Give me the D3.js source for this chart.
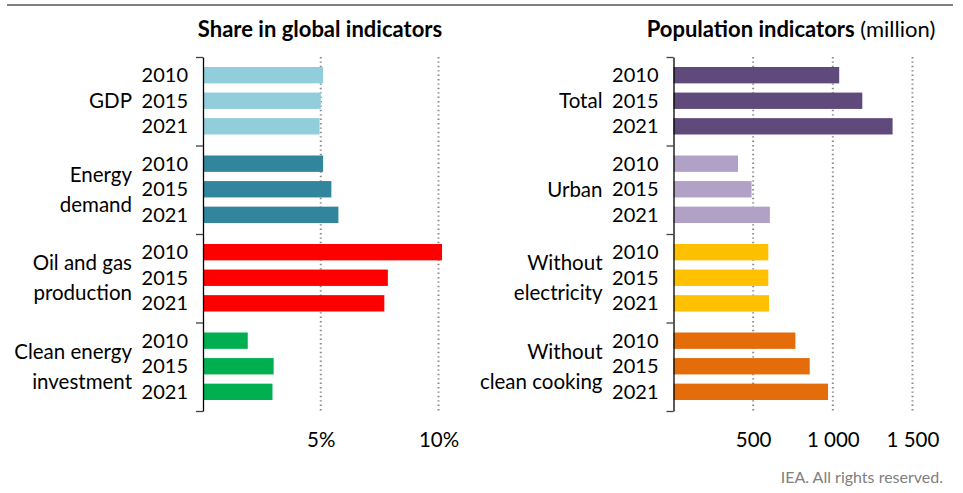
<!DOCTYPE html>
<html>
<head>
<meta charset="utf-8">
<script src="https://cdn.jsdelivr.net/npm/d3@7"></script>
<style>
  body { margin: 0; background: #fff; }
  text { font-family: Lato, "Open Sans", sans-serif; fill: #000; }
</style>
</head>
<body>
<script>
// data
var years = ["2010", "2015", "2021"];

var shareGroups = [["GDP"], ["Energy", "demand"], ["Oil and gas", "production"], ["Clean energy", "investment"]];
var shareValues = [[5.1, 5.0, 4.95], [5.1, 5.45, 5.75], [10.15, 7.85, 7.7], [1.9, 3.0, 2.95]];
var shareColors = ["#92CDDC", "#31859C", "#FF0000", "#00B050"];
var shareTicks = [5, 10];

var popGroups = [["Total"], ["Urban"], ["Without", "electricity"], ["Without", "clean cooking"]];
var popValues = [[1040, 1185, 1375], [405, 490, 605], [595, 595, 600], [765, 855, 970]];
var popColors = ["#604A7B", "#B2A1C7", "#FFC000", "#E46C0A"];
var popTicks = [500, 1000, 1500];

var width = 963, height = 493;
var yTop = 57, yBottom = 411;

var svg = d3.select("body").append("svg")
    .attr("width", width)
    .attr("height", height)

// top rule
svg.append("line")
    .attr("x1", 7).attr("x2", 953)
    .attr("y1", 5).attr("y2", 5)
    .style("stroke", "#808080")
    .style("stroke-width", 2)

function panel(opts) {
    var g = svg.append("g")

    var x = d3.scaleLinear().domain(opts.domain).range([opts.x0, opts.x1])
    var yGroup = d3.scaleBand().domain(d3.range(opts.groups.length)).range([yTop, yBottom])
    var yYear = d3.scaleBand().domain(years)
        .range([10, yGroup.bandwidth() - 11])
        .paddingInner(0.36)
    var yEdge = d3.scaleLinear().domain([0, opts.groups.length]).range([yTop, yBottom])

    // dotted gridlines
    g.append("g").selectAll("line")
        .data(opts.ticks)
        .enter()
        .append("line")
        .attr("x1", d => x(d)).attr("x2", d => x(d))
        .attr("y1", yTop).attr("y2", yBottom)
        .style("stroke", "#8a8a8a")
        .style("stroke-width", 2)
        .style("stroke-dasharray", "1.4,3")

    // bars
    opts.groups.forEach((grp, i) => {
        g.append("g").selectAll("rect")
            .data(opts.values[i])
            .enter()
            .append("rect")
            .attr("x", x(0))
            .attr("y", (d, j) => yGroup(i) + yYear(years[j]))
            .attr("width", d => x(d) - x(0))
            .attr("height", yYear.bandwidth())
            .attr("fill", opts.colors[i])

        // year labels
        g.append("g").selectAll("text")
            .data(years)
            .enter()
            .append("text")
            .attr("x", opts.x0 - 15)
            .attr("y", d => yGroup(i) + yYear(d) + yYear.bandwidth() / 2)
            .attr("dy", "0.35em")
            .attr("text-anchor", "end")
            .style("font-size", "20px")
            .text(d => d)

        // group labels
        var cy = yGroup(i) + yGroup.bandwidth() / 2
        var lab = g.append("text")
            .attr("text-anchor", "end")
            .style("font-size", "20.5px")
        grp.forEach((line, k) => {
            var off = grp.length === 1 ? 0 : (k === 0 ? -15 : 15)
            lab.append("tspan")
                .attr("x", opts.x0 - 71)
                .attr("y", cy + off)
                .attr("dy", "0.35em")
                .text(line)
        })
    })

    // category axis with group ticks
    var yAxis = g.append("g")
        .attr("transform", "translate(" + opts.x0 + ",0)")
        .call(d3.axisLeft(yEdge)
            .tickValues(d3.range(opts.groups.length + 1))
            .tickSize(7)
            .tickSizeOuter(0)
            .tickFormat(""))
    yAxis.select(".domain").style("stroke", "#000").style("stroke-width", 1.3)
    yAxis.selectAll(".tick line").style("stroke", "#404040").style("stroke-width", 1.3)

    // value axis labels
    var xAxis = g.append("g")
        .attr("transform", "translate(0," + 432 + ")")
        .call(d3.axisBottom(x)
            .tickValues(opts.ticks)
            .tickSize(0)
            .tickPadding(0)
            .tickFormat(opts.format))
    xAxis.select(".domain").remove()
    xAxis.selectAll("text")
        .style("font-size", "20.5px")
        .style("font-family", "Lato, 'Open Sans', sans-serif")
        .attr("fill", "#000")

    // title
    var t = g.append("text")
        .attr("x", opts.titleX)
        .attr("y", 37)
        .attr("text-anchor", "middle")
        .style("font-size", "22px")
    t.append("tspan").style("font-weight", "bold").text(opts.title)
    if (opts.unit) t.append("tspan").text(opts.unit)
}

panel({
    groups: shareGroups, values: shareValues, colors: shareColors,
    ticks: shareTicks, domain: [0, 10], x0: 203, x1: 438.5,
    format: d => d + "%",
    title: "Share in global indicators", titleX: 320
})

panel({
    groups: popGroups, values: popValues, colors: popColors,
    ticks: popTicks, domain: [0, 1500], x0: 673.5, x1: 912.5,
    format: d => d3.format(",")(d).replace(",", " "),
    title: "Population indicators", unit: " (million)", titleX: 791
})

svg.append("text")
    .attr("x", 943)
    .attr("y", 483)
    .attr("text-anchor", "end")
    .style("font-size", "16px")
    .style("fill", "#808080")
    .text("IEA. All rights reserved.")
</script>
</body>
</html>
